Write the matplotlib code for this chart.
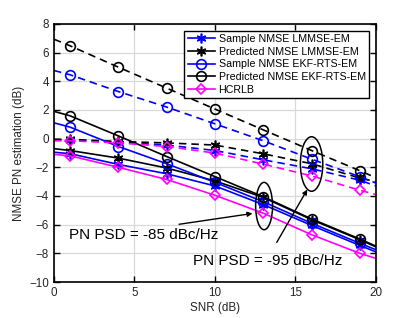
import matplotlib
matplotlib.use("Agg")
import matplotlib.pyplot as plt
from matplotlib.patches import Ellipse

plt.rcParams['font.family'] = ['Liberation Sans', 'DejaVu Sans']

snr = [0, 1, 4, 7, 10, 13, 16, 19, 20]

# solid-line set
pred_ekf_a = [1.9, 1.59, 0.19, -1.25, -2.65, -4.05, -5.6, -7.0, -7.5]
samp_ekf_a = [1.1, 0.80, -0.55, -1.75, -3.05, -4.4, -5.9, -7.3, -7.75]
pred_lmmse_a = [-0.7, -0.83, -1.36, -2.05, -2.95, -4.1, -5.65, -7.05, -7.55]
samp_lmmse_a = [-0.95, -1.05, -1.8, -2.45, -3.3, -4.6, -6.05, -7.45, -7.9]
hcrlb_a = [-1.1, -1.2, -2.0, -2.85, -3.95, -5.2, -6.7, -8.0, -8.35]

# dashed-line set
pred_ekf_b = [6.93, 6.47, 4.98, 3.52, 2.06, 0.61, -0.83, -2.24, -2.73]
samp_ekf_b = [4.75, 4.45, 3.28, 2.2, 1.03, -0.15, -1.43, -2.66, -3.1]
pred_lmmse_b = [-0.05, -0.05, -0.2, -0.3, -0.45, -1.06, -1.75, -2.75, -3.0]
samp_lmmse_b = [-0.1, -0.1, -0.25, -0.45, -0.83, -1.48, -2.1, -2.9, -3.3]
hcrlb_b = [-0.15, -0.15, -0.3, -0.55, -1.01, -1.78, -2.6, -3.6, -3.9]

labels = ["Sample NMSE LMMSE-EM", "Predicted NMSE LMMSE-EM",
          "Sample NMSE EKF-RTS-EM", "Predicted NMSE EKF-RTS-EM", "HCRLB"]
xticks = [0, 5, 10, 15, 20]
yticks = [-10, -8, -6, -4, -2, 0, 2, 4, 6, 8]

fig = plt.figure(figsize=(4.15, 3.18), dpi=100)
ax = fig.add_axes([0.130, 0.113, 0.776, 0.812])

blue = (0, 0, 1)
mag = (1, 0, 1)
ast = (6, 2, 0)
styles = [
    (samp_lmmse_a, samp_lmmse_b, blue, ast, 'full'),
    (pred_lmmse_a, pred_lmmse_b, 'k', ast, 'full'),
    (samp_ekf_a, samp_ekf_b, blue, 'o', 'none'),
    (pred_ekf_a, pred_ekf_b, 'k', 'o', 'none'),
    (hcrlb_a, hcrlb_b, mag, 'D', 'none'),
]
mevery = list(range(1, 8))
for (ya, yb, c, m, fill), lab in zip(styles, labels):
    kw = dict(color=c, marker=m, markersize=7, markevery=mevery, lw=1.2,
              markeredgewidth=1.2)
    if fill == 'none':
        kw['markerfacecolor'] = 'none'
    if m == 'D':
        kw['markersize'] = 5.5
    ax.plot(snr, ya, '-', label=lab, **kw)
    ax.plot(snr, yb, '--', dashes=(4.5, 3), **kw)

ax.set_xlim(0, 20)
ax.set_ylim(-10, 8)
ax.set_xticks(xticks)
ax.set_yticks(yticks)
ax.grid(True, color=(0.85, 0.85, 0.85), lw=0.9)
ax.set_axisbelow(True)
ax.tick_params(direction='in', top=True, right=True, labelsize=8.4, length=4, width=1,
               labelcolor=(0.15, 0.15, 0.15))
for s in ax.spines.values():
    s.set_linewidth(1.2)
ax.set_xlabel("SNR (dB)", fontsize=8.4, labelpad=2, color=(0.15, 0.15, 0.15))
ax.set_ylabel("NMSE PN estimation (dB)", fontsize=8.4, labelpad=3, color=(0.15, 0.15, 0.15))

ax.add_patch(Ellipse((13.05, -4.7), 1.05, 3.3, fill=False, ec='k', lw=1.1, zorder=5))
ax.add_patch(Ellipse((16.0, -1.77), 1.39, 3.8, fill=False, ec='k', lw=1.1, zorder=5))
ax.annotate('', xy=(12.5, -5.19), xytext=(7.6, -6.0),
            arrowprops=dict(arrowstyle='-|>', color='k', lw=1.0, mutation_scale=7))
ax.annotate('', xy=(15.82, -3.38), xytext=(13.75, -7.4),
            arrowprops=dict(arrowstyle='-|>', color='k', lw=1.0, mutation_scale=7))
ax.text(5.55, -6.7, "PN PSD = -85 dBc/Hz", fontsize=11, ha='center', va='center')
ax.text(13.25, -8.56, "PN PSD = -95 dBc/Hz", fontsize=11, ha='center', va='center')

leg = ax.legend(loc='upper right', bbox_to_anchor=(0.978, 0.973), borderaxespad=0,
                fontsize=7.7, handlelength=2.6, handletextpad=0.3, labelspacing=0.25,
                fancybox=False, framealpha=1, edgecolor='k', borderpad=0.3)
leg.get_frame().set_linewidth(1.0)

fig.savefig("out.png", dpi=100)
